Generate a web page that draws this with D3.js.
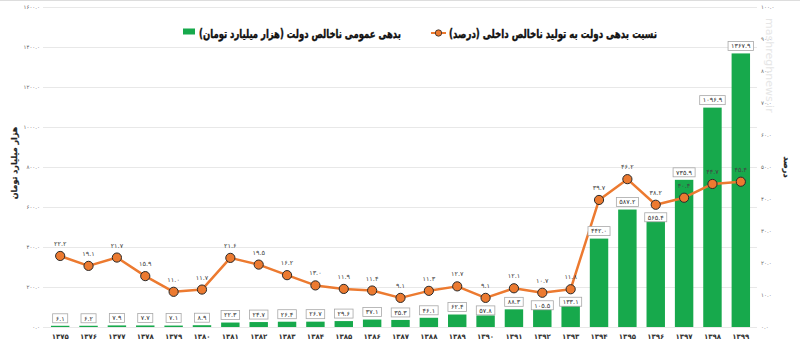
<!DOCTYPE html>
<html><head><meta charset="utf-8">
<script src="https://cdn.jsdelivr.net/npm/d3@7"></script>
<style>
html,body{margin:0;padding:0;background:#fff;}
svg{display:block;font-family:"DejaVu Sans",sans-serif;}
</style></head><body>
<svg id="c" width="800" height="350"></svg>
<script>
const years = ["1375","1376","1377","1378","1379","1380","1381","1382","1383","1384","1385","1386","1387","1388","1389","1390","1391","1392","1393","1394","1395","1396","1397","1398","1399"];
const debtValues = [6.1,6.2,7.9,7.7,7.1,8.9,22.3,24.7,26.4,26.7,29.6,37.1,35.3,46.1,62.4,57.8,88.3,105.5,133.1,442.0,587.2,565.4,735.9,1096.9,1367.9];
const ratioValues = [22.2,19.1,21.7,15.9,11.0,11.7,21.6,19.5,16.2,13.0,11.9,11.4,9.1,11.3,12.7,9.1,12.1,10.7,11.8,39.7,46.2,38.2,40.4,44.7,45.4];
const leftTicks = [0,200,400,600,800,1000,1200,1400,1600];
const rightTicks = [0,10,20,30,40,50,60,70,80,90,100];
const barSeriesName = "بدهی عمومی ناخالص دولت (هزار میلیارد تومان)";
const lineSeriesName = "نسبت بدهی دولت به تولید ناخالص داخلی (درصد)";
const leftAxisTitle = "هزار میلیارد تومان";
const rightAxisTitle = "درصد";

const faDigits = "۰۱۲۳۴۵۶۷۸۹";
const fa = s => String(s).replace(/[0-9]/g, d => faDigits[+d]);
const fmt1 = v => fa(v.toFixed(1));

const GREEN = "#17a94c", ORANGE = "#ec7a30";
const svg = d3.select("#c");

const x = d3.scaleBand().domain(years).range([46, 755]).paddingInner(0.35).paddingOuter(0.175);
const yL = d3.scaleLinear().domain([0, 1600]).range([327, 7]);
const yR = d3.scaleLinear().domain([0, 100]).range([327, 7]);

svg.append("line").attr("x1",0).attr("x2",800).attr("y1",0.5).attr("y2",0.5).attr("stroke","#ddd");

const gL = svg.append("g").attr("transform","translate(43,0)")
  .call(d3.axisLeft(yL).tickValues(leftTicks).tickFormat(fmt1).tickSize(-714).tickPadding(3));
gL.select(".domain").remove();
gL.selectAll(".tick line").attr("stroke","#e8e8e8");
gL.selectAll(".tick text").attr("fill","#666").style("font-size","5.5px").attr("font-family","DejaVu Sans");

const gR = svg.append("g").attr("transform","translate(757,0)")
  .call(d3.axisRight(yR).tickValues(rightTicks).tickFormat(fmt1).tickSize(0).tickPadding(4));
gR.select(".domain").remove();
gR.selectAll(".tick text").attr("fill","#666").style("font-size","5.5px").attr("font-family","DejaVu Sans");

svg.append("text").attr("transform","translate(766,18) rotate(90)")
  .attr("fill","#e6e6e6").style("font-size","11px").text("mashreghnews.ir");

const bw = x.bandwidth();
svg.append("g").selectAll("rect").data(years).join("rect")
  .attr("x", d => x(d)).attr("width", bw)
  .attr("y", (d,i) => yL(debtValues[i]))
  .attr("height", (d,i) => yL(0) - yL(debtValues[i]))
  .attr("fill", GREEN);

const gX = svg.append("g").attr("transform","translate(0,327)")
  .call(d3.axisBottom(x).tickFormat(fa).tickSize(0).tickPadding(7));
gX.select(".domain").remove();
gX.selectAll(".tick text").attr("fill","#333").style("font-size","7px").attr("font-family","DejaVu Sans").attr("font-weight","bold");

const cx = d => x(d) + bw/2;
const line = d3.line().x(d => cx(d)).y((d,i) => yR(ratioValues[i]));
svg.append("path").datum(years).attr("d", line)
  .attr("fill","none").attr("stroke",ORANGE).attr("stroke-width",2.5).attr("stroke-linejoin","round");
svg.append("g").selectAll("circle").data(years).join("circle")
  .attr("cx", cx).attr("cy", (d,i) => yR(ratioValues[i])).attr("r", 4.6)
  .attr("fill", ORANGE).attr("stroke","#2a2a2a").attr("stroke-width",1);

svg.append("g").selectAll("text").data(years).join("text")
  .attr("x", cx).attr("y", (d,i) => yR(ratioValues[i]) - 10)
  .attr("text-anchor","middle").attr("fill","#444").style("font-size","6.5px")
  .text((d,i) => fmt1(ratioValues[i]));

const boxH = 9;
const gB = svg.append("g");
years.forEach((d,i) => {
  const barTop = yL(debtValues[i]);
  const my = yR(ratioValues[i]);
  let top = barTop - 3 - boxH;
  if (my < barTop) top = Math.max(top, my + 8);
  const g = gB.append("g");
  const t = g.append("text").attr("x", cx(d)).attr("y", top + boxH/2 + 2.3)
    .attr("text-anchor","middle").attr("fill","#333").style("font-size","6.5px")
    .text(fmt1(debtValues[i]));
  const w = t.node().getComputedTextLength() + 6;
  g.insert("rect","text").attr("x", cx(d) - w/2).attr("y", top).attr("width", w).attr("height", boxH)
    .attr("fill","#fff").attr("stroke","#a8a8a8").attr("stroke-width",0.8);
});

svg.append("text").attr("transform","translate(17,163) rotate(-90)")
  .attr("text-anchor","middle").attr("direction","rtl").attr("font-weight","bold")
  .attr("fill","#222").attr("stroke","#222").attr("stroke-width",0.25).style("font-size","8px").text(leftAxisTitle);
svg.append("text").attr("transform","translate(784,167) rotate(90)")
  .attr("text-anchor","middle").attr("direction","rtl").attr("font-weight","bold")
  .attr("fill","#222").attr("stroke","#222").attr("stroke-width",0.25).style("font-size","8px").text(rightAxisTitle);

// legend: condense text horizontally to the target width
function fitText(sel, cxp, target) {
  const w = sel.node().getComputedTextLength();
  sel.attr("transform", `translate(${cxp},0) scale(${target / w},1)`);
}
const lg = svg.append("g");
lg.append("rect").attr("x",183).attr("y",28.5).attr("width",12).attr("height",6).attr("fill",GREEN);
const t1 = lg.append("text").attr("x",0).attr("y",38.5).attr("text-anchor","middle").attr("direction","rtl")
  .attr("font-weight","bold").attr("fill","#111").attr("stroke","#111").attr("stroke-width",0.4)
  .style("font-size","11.5px").text(barSeriesName);
fitText(t1, 300, 202);
lg.append("line").attr("x1",431).attr("x2",446).attr("y1",33).attr("y2",33).attr("stroke",ORANGE).attr("stroke-width",2);
lg.append("circle").attr("cx",438.5).attr("cy",33).attr("r",3.2).attr("fill",ORANGE).attr("stroke","#2a2a2a").attr("stroke-width",0.8);
const t2 = lg.append("text").attr("x",0).attr("y",38.5).attr("text-anchor","middle").attr("direction","rtl")
  .attr("font-weight","bold").attr("fill","#111").attr("stroke","#111").attr("stroke-width",0.4)
  .style("font-size","11.5px").text(lineSeriesName);
fitText(t2, 553, 208);
</script>
</body></html>
